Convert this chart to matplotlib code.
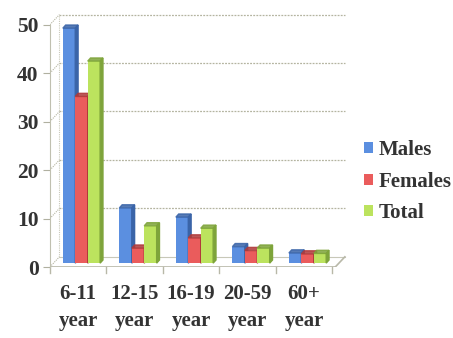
import matplotlib.pyplot as plt
from matplotlib.patches import Polygon
import numpy as np

categories = ['6-11\nyear', '12-15\nyear', '16-19\nyear', '20-59\nyear', '60+\nyear']
males = [48.5, 11.4, 9.5, 3.4, 2.1]
females = [34.4, 3.1, 5.2, 2.6, 1.9]
total = [41.7, 7.7, 7.2, 3.1, 2.0]

series = [('Males', males, '#5b8fe0', '#3a64a8'),
          ('Females', females, '#ea5c5c', '#b03a3a'),
          ('Total', total, '#bce35e', '#7ea43a')]

plt.rcParams['font.family'] = ['Liberation Serif', 'DejaVu Serif']
plt.rcParams['font.weight'] = 'bold'
plt.rcParams['axes.grid'] = False

fig = plt.figure(figsize=(4.53, 3.38), dpi=100)
ax = fig.add_axes([0.11, 0.21, 0.655, 0.754])

w = 0.22       # front width of one bar
ddx = 0.05     # bar depth in x (data units)
ddy = 0.65     # bar depth in y
wdx = 0.17     # back wall offset in x
wdy = 2.1      # back wall offset in y
base = 0.8     # bars stand a little behind the front floor edge
xend = 4.55    # right end of floor front edge
grid_c = '#b4b4a0'
txt_c = '#333333'
x = np.arange(len(categories))

# back wall gridlines (dotted) and left wall diagonals
for g in range(0, 60, 10):
    ax.plot([-0.5, -0.5 + wdx], [g, g + wdy], color=grid_c, lw=0.8, ls=(0, (1, 1)))
    if g > 0:
        ax.plot([-0.5 + wdx, xend + wdx], [g + wdy] * 2, color=grid_c, lw=0.9, ls=(0, (1.5, 1)))
ax.plot([-0.5 + wdx] * 2, [wdy, 50 + wdy], color='#c8c8b8', lw=0.8, ls=(0, (1, 1)))
# floor, with small ticks between categories
ax.plot([-0.5, xend], [0, 0], color='#b8b8a8', lw=1.2)
ax.plot([-0.5 + wdx, xend + wdx], [wdy, wdy], color='#c8c8b8', lw=0.8)
ax.plot([xend, xend + wdx], [0, wdy], color='#b8b8a8', lw=1.2)
tick_tr = ax.get_xaxis_transform()
for b in np.append(x - 0.5, x[-1] + 0.5):
    ax.plot([b, b], [0, -0.025], color='#b8b8a8', lw=1, clip_on=False, transform=tick_tr)

for j, (name, vals, c, dark) in enumerate(series):
    xs = x + 0.06 + (j - 1) * w
    bars = ax.bar(xs, vals, width=w, bottom=base, color=c, edgecolor='none', zorder=3, label=name)
    for b in bars:
        x0 = b.get_x()
        x1 = x0 + b.get_width()
        y0 = b.get_y()
        h = y0 + b.get_height()
        ax.add_patch(Polygon([(x1, y0), (x1 + ddx, y0 + ddy), (x1 + ddx, h + ddy), (x1, h)],
                             closed=True, color=dark, zorder=3))
        ax.add_patch(Polygon([(x0, h), (x0 + ddx, h + ddy), (x1 + ddx, h + ddy), (x1, h)],
                             closed=True, color=dark, alpha=0.85, zorder=3))

ax.set_xlim(-0.5, 4.75)
ax.set_ylim(0, 52.6)
ax.set_yticks(range(0, 60, 10))
ax.set_xticks(x)
ax.set_xticklabels(categories, fontsize=15, color=txt_c, linespacing=1.5)
ax.tick_params(axis='y', labelsize=15.5, colors=txt_c, length=5, color='#b0b0a0', pad=3)
ax.tick_params(axis='x', length=0, pad=12)
ax.grid(False)
for s in ['top', 'right', 'bottom']:
    ax.spines[s].set_visible(False)
ax.spines['left'].set_color('#c0c0b0')
ax.spines['left'].set_bounds(0, 50)

leg = ax.legend(loc='center left', bbox_to_anchor=(1.01, 0.335), frameon=False, fontsize=15,
                handlelength=0.45, handleheight=0.45, handletextpad=0.25, labelspacing=0.55,
                borderaxespad=0.3)
for t in leg.get_texts():
    t.set_color(txt_c)

fig.savefig('out.png', dpi=100)
